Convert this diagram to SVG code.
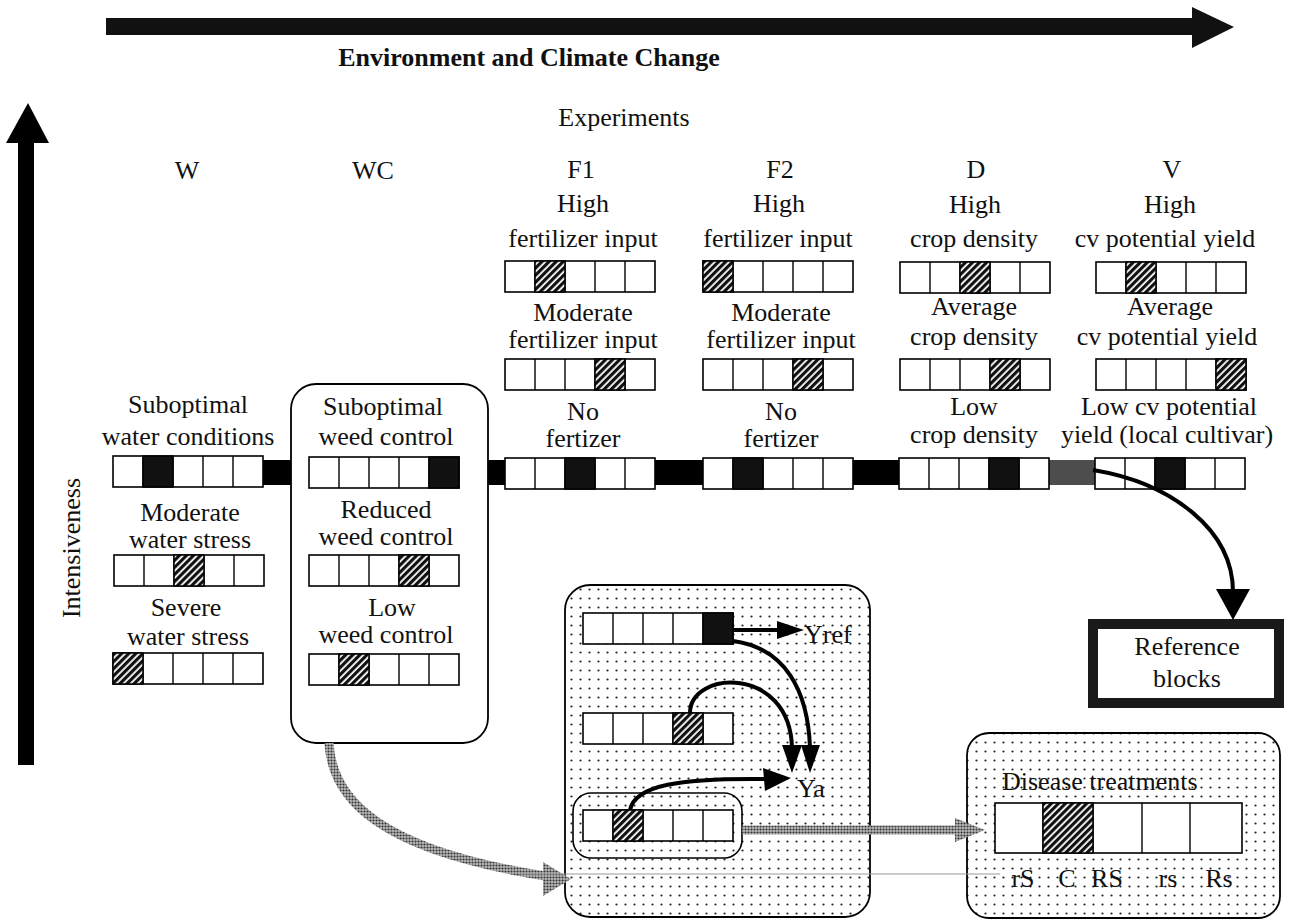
<svg xmlns="http://www.w3.org/2000/svg" xmlns:xlink="http://www.w3.org/1999/xlink" width="1294" height="922" viewBox="0 0 1294 922">
<style>
.t{font-family:"Liberation Serif","Times New Roman",serif;font-size:26px;fill:#111;text-anchor:middle}
.ts{font-family:"Liberation Serif","Times New Roman",serif;font-size:26px;fill:#111}
.b{font-weight:bold}
.dk{fill:#111;stroke:#000;stroke-width:1.5}
.ht{fill:url(#hatch);stroke:#000;stroke-width:1.5}
.box{fill:url(#dots);stroke:#000;stroke-width:1.8}
.wire{fill:none;stroke:#000;stroke-width:4}
.gray{fill:none;stroke:url(#tone);stroke-width:9}
</style>
<defs>
<pattern id="hatch" width="5" height="5" patternUnits="userSpaceOnUse" patternTransform="rotate(45)">
<rect width="5" height="5" fill="#fff"/><rect width="3.2" height="5" fill="#111"/>
</pattern>
<pattern id="dots" width="9" height="9" patternUnits="userSpaceOnUse">
<rect width="9" height="9" fill="#fff"/><circle cx="4.5" cy="4.5" r="1.1" fill="#222"/>
</pattern>
<pattern id="tone" width="3" height="3" patternUnits="userSpaceOnUse">
<rect width="3" height="3" fill="#b8b8b8"/><circle cx="1.5" cy="1.5" r="1.05" fill="#333"/>
</pattern>
<g id="blk"><rect width="150" height="31" fill="#fff" stroke="#000" stroke-width="1.6"/><path d="M30 0V31M60 0V31M90 0V31M120 0V31" stroke="#000" stroke-width="1.4"/></g>
</defs>
<rect width="1294" height="922" fill="#fff"/>

<g id="axis-env">
<rect x="106" y="18" width="1088" height="17" fill="#111"/>
<polygon points="1192,7 1192,48 1234,27" fill="#111"/>
<text class="t b" x="529" y="66">Environment and Climate Change</text>
</g>
<g id="axis-int">
<rect x="18" y="140" width="16" height="625" fill="#000"/>
<polygon points="6,143 49,143 28,103" fill="#000"/>
<text class="t" transform="translate(80,548) rotate(-90)">Intensiveness</text>
</g>
<text id="experiments" class="t" x="624" y="126">Experiments</text>

<g id="main-bar">
<rect x="113" y="460" width="940" height="25" fill="#000"/>
<rect x="1046" y="460" width="54" height="25" fill="#4d4d4d"/>
</g>

<g id="col-W">
<text class="t" x="187" y="179">W</text>
<text class="t" x="188" y="413">Suboptimal</text>
<text class="t" x="188" y="445">water conditions</text>
<g transform="translate(113,456)"><use href="#blk"/><rect class="dk" x="30" width="30" height="31"/></g>
<text class="t" x="190" y="521">Moderate</text>
<text class="t" x="190" y="548">water stress</text>
<g transform="translate(114,555)"><use href="#blk"/><rect class="ht" x="60" width="30" height="31"/></g>
<text class="t" x="186" y="616">Severe</text>
<text class="t" x="188" y="645">water stress</text>
<g transform="translate(113,653)"><use href="#blk"/><rect class="ht" x="0" width="30" height="31"/></g>
</g>

<g id="col-WC">
<text class="t" x="373" y="179">WC</text>
<rect x="291" y="384" width="197" height="359" rx="25" fill="#fff" stroke="#000" stroke-width="1.8"/>
<text class="t" x="383" y="415">Suboptimal</text>
<text class="t" x="386" y="445">weed control</text>
<g transform="translate(309,457)"><use href="#blk"/><rect class="dk" x="120" width="30" height="31"/></g>
<text class="t" x="386" y="518">Reduced</text>
<text class="t" x="386" y="545">weed control</text>
<g transform="translate(309,555)"><use href="#blk"/><rect class="ht" x="90" width="30" height="31"/></g>
<text class="t" x="392" y="616">Low</text>
<text class="t" x="386" y="643">weed control</text>
<g transform="translate(309,654)"><use href="#blk"/><rect class="ht" x="30" width="30" height="31"/></g>
</g>

<g id="col-F1">
<text class="t" x="581" y="178">F1</text>
<text class="t" x="583" y="212">High</text>
<text class="t" x="583" y="247">fertilizer input</text>
<g transform="translate(505,261)"><use href="#blk"/><rect class="ht" x="30" width="30" height="31"/></g>
<text class="t" x="583" y="321">Moderate</text>
<text class="t" x="583" y="348">fertilizer input</text>
<g transform="translate(505,359)"><use href="#blk"/><rect class="ht" x="90" width="30" height="31"/></g>
<text class="t" x="583" y="420">No</text>
<text class="t" x="583" y="447">fertizer</text>
<g transform="translate(505,458)"><use href="#blk"/><rect class="dk" x="60" width="30" height="31"/></g>
</g>

<g id="col-F2">
<text class="t" x="780" y="178">F2</text>
<text class="t" x="779" y="212">High</text>
<text class="t" x="778" y="247">fertilizer input</text>
<g transform="translate(703,261)"><use href="#blk"/><rect class="ht" x="0" width="30" height="31"/></g>
<text class="t" x="781" y="321">Moderate</text>
<text class="t" x="781" y="348">fertilizer input</text>
<g transform="translate(703,359)"><use href="#blk"/><rect class="ht" x="90" width="30" height="31"/></g>
<text class="t" x="781" y="420">No</text>
<text class="t" x="781" y="447">fertizer</text>
<g transform="translate(703,458)"><use href="#blk"/><rect class="dk" x="30" width="30" height="31"/></g>
</g>

<g id="col-D">
<text class="t" x="976" y="178">D</text>
<text class="t" x="975" y="213">High</text>
<text class="t" x="974" y="247">crop density</text>
<g transform="translate(900,262)"><use href="#blk"/><rect class="ht" x="60" width="30" height="31"/></g>
<text class="t" x="974" y="315">Average</text>
<text class="t" x="974" y="345">crop density</text>
<g transform="translate(900,359)"><use href="#blk"/><rect class="ht" x="90" width="30" height="31"/></g>
<text class="t" x="974" y="415">Low</text>
<text class="t" x="974" y="443">crop density</text>
<g transform="translate(899,458)"><use href="#blk"/><rect class="dk" x="90" width="30" height="31"/></g>
</g>

<g id="col-V">
<text class="t" x="1172" y="178">V</text>
<text class="t" x="1170" y="213">High</text>
<text class="t" x="1165" y="247">cv potential yield</text>
<g transform="translate(1096,262)"><use href="#blk"/><rect class="ht" x="30" width="30" height="31"/></g>
<text class="t" x="1170" y="315">Average</text>
<text class="t" x="1167" y="345">cv potential yield</text>
<g transform="translate(1096,359)"><use href="#blk"/><rect class="ht" x="120" width="30" height="31"/></g>
<text class="t" x="1169" y="415">Low cv potential</text>
<text class="t" x="1167" y="443">yield (local cultivar)</text>
<g transform="translate(1095,458)"><use href="#blk"/><rect class="dk" x="60" width="30" height="31"/></g>
</g>

<g id="reference-blocks">
<rect x="1093" y="624" width="186" height="79" fill="#fff" stroke="#1a1a1a" stroke-width="10"/>
<text class="t" x="1187" y="655">Reference</text>
<text class="t" x="1187" y="687">blocks</text>
</g>

<g id="yield-box">
<rect class="box" x="565" y="585" width="305" height="332" rx="25"/>
<rect x="573" y="793" width="169" height="65" rx="18" fill="none" stroke="#000" stroke-width="1.6"/>
<g transform="translate(583,613)"><use href="#blk"/><rect class="dk" x="120" width="30" height="31"/></g>
<g transform="translate(583,713)"><use href="#blk"/><rect class="ht" x="90" width="30" height="31"/></g>
<g transform="translate(583,810)"><use href="#blk"/><rect class="ht" x="30" width="30" height="31"/></g>
<text class="ts" x="804" y="643">Yref</text>
<text class="ts" x="797" y="797">Ya</text>
</g>

<g id="disease-box">
<rect class="box" x="967" y="733" width="313" height="185" rx="22"/>
<text class="ts" x="1002" y="790">Disease treatments</text>
<rect x="995" y="803" width="247" height="50" fill="#fff" stroke="#000" stroke-width="1.6"/>
<path d="M1043 803V853M1093 803V853M1142 803V853M1190 803V853" stroke="#000" stroke-width="1.4"/>
<rect class="ht" x="1043" y="803" width="50" height="50"/>
<text class="t" x="1023" y="887">rS</text>
<text class="t" x="1067" y="887">C</text>
<text class="t" x="1107" y="887">RS</text>
<text class="t" x="1168" y="887">rs</text>
<text class="t" x="1219" y="887">Rs</text>
</g>

<g id="connectors">
<path class="wire" d="M1093 470 C1172 483 1233 530 1233 592" stroke-width="9"/>
<polygon points="1216,589 1250,589 1233,620" fill="#000"/>
<path class="wire" d="M733 630 H780"/>
<polygon points="777,621 777,639 804,630" fill="#000"/>
<path class="wire" d="M733 641 C785 648 808 690 810 748"/>
<polygon points="801,745 820,745 810,773" fill="#000"/>
<path class="wire" d="M690 713 C690 670 790 665 792 748"/>
<polygon points="782,745 802,745 792,773" fill="#000"/>
<path class="wire" d="M630 810 C635 785 680 778 766 779"/>
<polygon points="763,768 765,791 791,778" fill="#000"/>
<path class="gray" d="M329 743 C332 800 380 850 545 876"/>
<polygon points="543,862 543,896 571,879" fill="url(#tone)"/>
<path class="gray" d="M742 830 H958" stroke-width="8"/>
<polygon points="955,818 955,842 985,830" fill="url(#tone)"/>
<path d="M520 874 H1000" stroke="#999" stroke-width="1" fill="none"/>
</g>
</svg>
